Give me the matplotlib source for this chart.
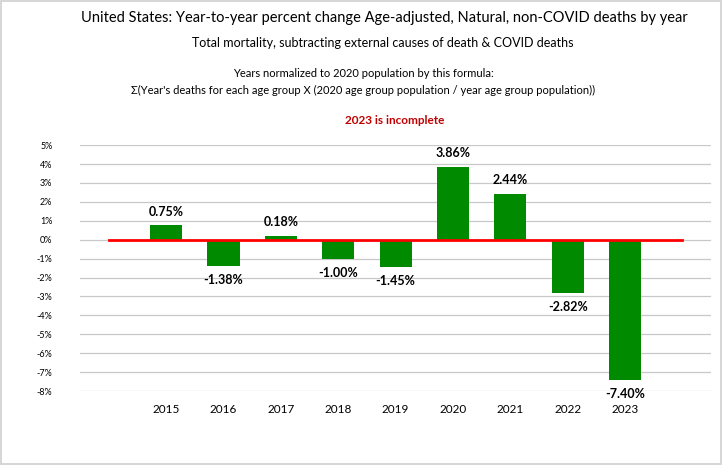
import numpy as np
import matplotlib.pyplot as plt
from matplotlib.patches import Rectangle

plt.rcParams['font.family'] = ['Lato', 'DejaVu Sans']

# category slots, first and last are empty (Excel-style padding)
years = ['', '2015', '2016', '2017', '2018', '2019', '2020', '2021', '2022', '2023', '']
pct_change = [np.nan, 0.75, -1.38, 0.18, -1.00, -1.45, 3.86, 2.44, -2.82, -7.40, np.nan]
baseline = [0] * len(years)
yticks = list(range(-8, 6))

fig = plt.figure(figsize=(7.22, 4.65), dpi=100)
ax = fig.add_axes([0.111, 0.159, 0.874, 0.529])

x = np.arange(len(years))
vals = np.array(pct_change)
ax.bar(x, vals, width=0.56, color='#008A00', zorder=2)
ax.plot(x, baseline, color='#FF0000', lw=2, zorder=3)

for xi, v in zip(x, vals):
    if np.isnan(v):
        continue
    off = 10 if v >= 0 else -10
    ax.annotate(f'{v:.2f}%', (xi, v), xytext=(0, off), textcoords='offset points',
                ha='center', va='center', fontsize=9, fontweight='bold')

ax.set_xlim(-0.5, len(years) - 0.5)
ax.set_ylim(-8, 5)
ax.set_yticks(yticks)
ax.set_yticklabels([f'{t}%' for t in yticks], fontsize=6.5)
ax.set_xticks(x)
ax.set_xticklabels(years, fontsize=8.5)
ax.tick_params(axis='both', length=0)
ax.tick_params(axis='y', pad=20)
ax.tick_params(axis='x', pad=9)
ax.yaxis.grid(True, color='#C8C8C8', lw=0.9, zorder=0)
ax.set_axisbelow(True)
for s in ax.spines.values():
    s.set_visible(False)

fig.text(0.532, 0.962, 'United States: Year-to-year percent change Age-adjusted, Natural, non-COVID deaths by year',
         ha='center', va='center', fontsize=10.5)
fig.text(0.530, 0.907, 'Total mortality, subtracting external causes of death & COVID deaths',
         ha='center', va='center', fontsize=9)
fig.text(0.503, 0.841, "Years normalized to 2020 population by this formula:",
         ha='center', va='center', fontsize=8)
fig.text(0.503, 0.806, "\u03a3(Year's deaths for each age group X (2020 age group population / year age group population))",
         ha='center', va='center', fontsize=8)
fig.text(0.547, 0.740, '2023 is incomplete', ha='center', va='center', fontsize=8.5,
         fontweight='bold', color='#C00000')

fig.patches.append(Rectangle((0.001, 0.002), 0.997, 0.996, transform=fig.transFigure,
                             fill=False, edgecolor='#D0D0D0', lw=1.2))

fig.savefig('out.png', dpi=100)
